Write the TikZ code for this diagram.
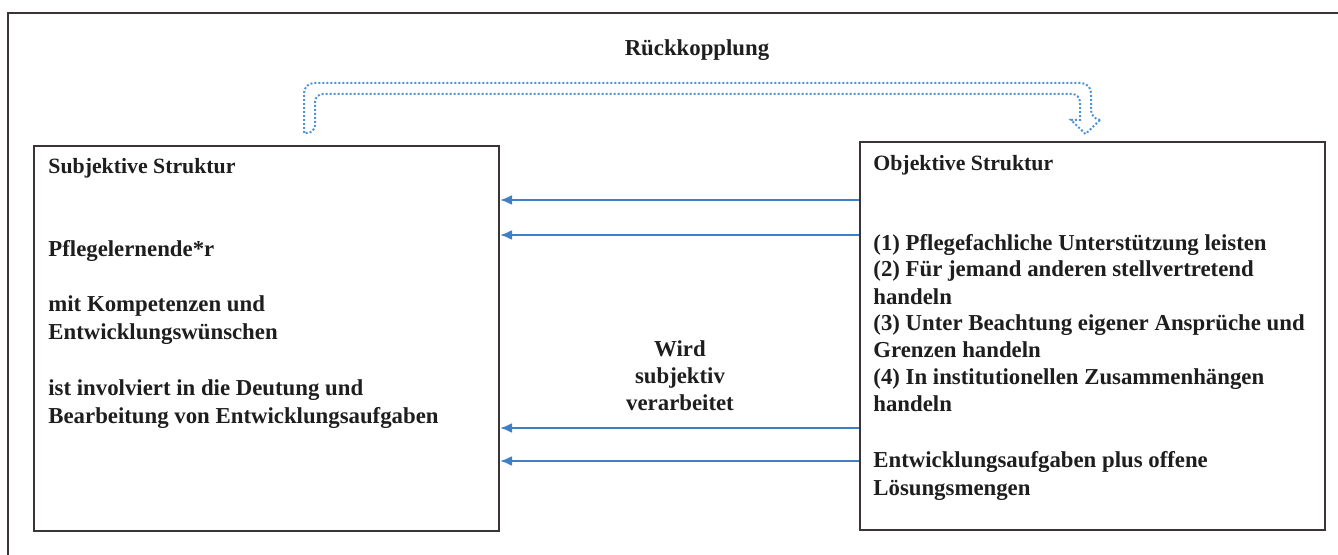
\documentclass[tikz,border=0pt]{standalone}
\usepackage{fontspec}
\setmainfont{Liberation Serif}
\usetikzlibrary{arrows.meta,calc}
\definecolor{ink}{HTML}{1E1E1E}
\definecolor{frame}{HTML}{3A3434}
\definecolor{flowblue}{HTML}{3F7FC6}
\definecolor{loopblue}{HTML}{4F92D6}

\begin{document}
\begin{tikzpicture}[
  x=0.5pt, y=-0.5pt,
  font=\fontsize{11.4}{14}\selectfont\bfseries,
  box/.style={draw=frame, line width=1pt, inner sep=0pt, minimum width=232.5pt},
  txt/.style={anchor=base west, align=left, inner sep=0pt, text=ink},
  title/.style={txt, font=\fontsize{10.9}{14}\selectfont\bfseries},
  flow/.style={draw=flowblue, line width=1.1pt, -{Latex[length=6pt,width=5pt]}},
  feedback/.style={draw=loopblue, densely dotted, line width=1pt, rounded corners=5pt}
]
\useasboundingbox (0,0) rectangle (1338,555);

% outer frame, cut at right and bottom
\draw[draw=frame, line width=1pt] (8,555) -- (8,13) -- (1338,13);

% the two structures
\node[box, minimum height=192.5pt] (subj) at (266.5,338.5) {};
\node[box, minimum height=194pt] (obj) at (1092.5,336) {};

% multi-line texts sit on the baseline of their last line
\node[title] (subjtitle) at (48,174) {Subjektive Struktur};
\node[txt] (subjwho) at (48,257) {Pflegelernende*r};
\node[txt] (subjkomp) at (48,340) {mit Kompetenzen und\\Entwicklungswünschen};
\node[txt] (subjdeut) at (48,423) {ist involviert in die Deutung und\\Bearbeitung von Entwicklungsaufgaben};

\node[title] (objtitle) at (873,171) {Objektive Struktur};
\node[txt, font=\fontsize{11.4}{13.5}\selectfont\bfseries] (objlist) at (873,412)
  {(1) Pflegefachliche Unterstützung leisten\\
   (2) Für jemand anderen stellvertretend\\
   handeln\\
   (3) Unter Beachtung eigener Ansprüche und\\
   Grenzen handeln\\
   (4) In institutionellen Zusammenhängen\\
   handeln};
\node[txt] (objloes) at (873,495) {Entwicklungsaufgaben plus offene\\Lösungsmengen};

% influence from objective to subjective
\foreach \y in {200,235,428,461} {
  \draw[flow] (obj.west |- 0,\y) -- (subj.east |- 0,\y);
}
\node[anchor=base, align=center, inner sep=0pt, text=ink,
  font=\fontsize{11.4}{13.3}\selectfont\bfseries] (verarb) at (680,410)
  {Wird\\subjektiv\\verarbeitet};

% feedback block arrow
\node[anchor=base, inner sep=0pt, text=ink] (rueck) at (697,56) {Rückkopplung};
\draw[feedback] (304,133) -- (304,83) -- (1091,83) -- (1091,120)
  [sharp corners] -- (1100,120) -- (1085.5,134) -- (1071,120) -- (1080,120)
  [rounded corners=4pt] -- (1080,94) -- (315,94) -- (315,133) [sharp corners] -- cycle;
\end{tikzpicture}
\end{document}
